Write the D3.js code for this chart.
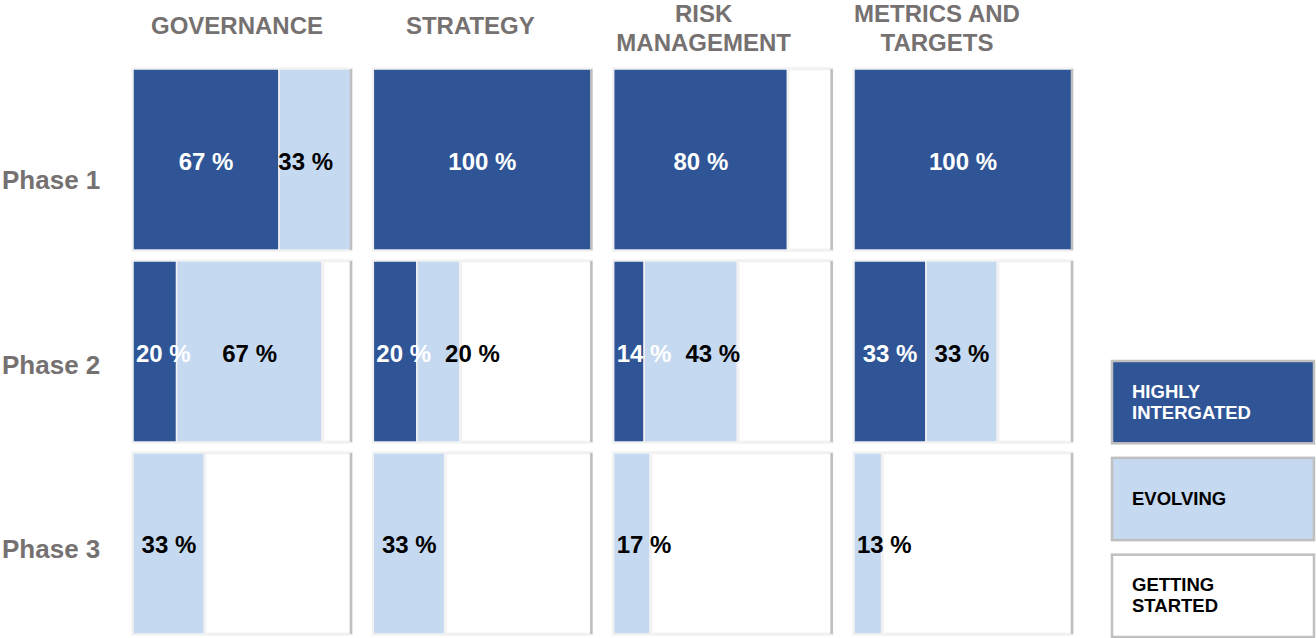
<!DOCTYPE html>
<html>
<head>
<meta charset="utf-8">
<script src="https://cdn.jsdelivr.net/npm/d3@7"></script>
<style>
  html, body { margin: 0; padding: 0; background: #fff; }
  svg { display: block; font-family: "Liberation Sans", Arial, sans-serif; font-weight: bold; }
</style>
</head>
<body>
<div id="chart"></div>
<script>
// Pillars (columns) and phases (rows)
const pillars = ["GOVERNANCE", "STRATEGY", "RISK MANAGEMENT", "METRICS AND TARGETS"];
const pillarLines = [["GOVERNANCE"], ["STRATEGY"], ["RISK", "MANAGEMENT"], ["METRICS AND", "TARGETS"]];
const phases = ["Phase 1", "Phase 2", "Phase 3"];
const levels = ["HIGHLY INTERGATED", "EVOLVING", "GETTING STARTED"];
const levelLines = [["HIGHLY", "INTERGATED"], ["EVOLVING"], ["GETTING", "STARTED"]];

// Share of companies per level, per pillar, for Phase 1..3 (%)
const highlyIntegrated = [[67, 20, 0], [100, 20, 0], [80, 14, 0], [100, 33, 0]];
const evolving         = [[33, 67, 33], [0, 20, 33], [0, 43, 17], [0, 33, 13]];
const gettingStarted   = [[0, 13, 67], [0, 60, 67], [20, 43, 83], [0, 34, 87]];

const colors = ["#2F5597", "#C5D9F0", "#FFFFFF"];
const labelColors = ["#FFFFFF", "#000000", "#000000"];

const width = 1316, height = 638;

const svg = d3.select("#chart").append("svg")
  .attr("width", width)
  .attr("height", height);

// Grid scales
const col = d3.scaleBand().domain(pillars).range([133, 1072]).paddingInner(0.093);
const row = d3.scaleBand().domain(phases).range([69, 634]).paddingInner(0.057);
const headerX = d3.scalePoint().domain(pillars).range([237, 937]);
const phaseY = d3.scalePoint().domain(phases).range([189, 558]);

// Stack the three levels inside each cell
const keys = ["high", "evolving", "started"];
const records = [];
pillars.forEach((p, i) => {
  phases.forEach((ph, j) => {
    records.push({
      pillar: p, phase: ph,
      high: highlyIntegrated[i][j],
      evolving: evolving[i][j],
      started: gettingStarted[i][j]
    });
  });
});
const stacked = d3.stack().keys(keys)(records);

// Column headers
pillars.forEach((p, i) => {
  const lines = pillarLines[i];
  const y0 = lines.length === 1 ? 34 : 22;
  lines.forEach((l, k) => {
    svg.append("text")
      .attr("x", headerX(p))
      .attr("y", y0 + k * 29)
      .attr("text-anchor", "middle")
      .attr("fill", "#767171")
      .style("font-size", "24px")
      .text(l);
  });
});

// Row labels
phases.forEach(ph => {
  svg.append("text")
    .attr("x", 2)
    .attr("y", phaseY(ph))
    .attr("fill", "#767171")
    .style("font-size", "26px")
    .text(ph);
});

// Cells
records.forEach((rec, idx) => {
  const x = d3.scaleLinear().domain([0, 100])
    .range([col(rec.pillar), col(rec.pillar) + col.bandwidth()]);
  const y0 = row(rec.phase), h = row.bandwidth();
  const g = svg.append("g");

  // cell outline
  g.append("rect")
    .attr("x", x(0)).attr("y", y0)
    .attr("width", x(100) - x(0)).attr("height", h)
    .attr("fill", "#fff")
    .attr("stroke", "#EFEFEF")
    .attr("stroke-width", 3);

  // segments
  stacked.forEach((layer, li) => {
    const d = layer[idx];
    if (d[1] - d[0] <= 0) return;
    g.append("rect")
      .attr("x", x(d[0]))
      .attr("y", y0)
      .attr("width", Math.min(x(d[1]), x(100)) - x(d[0]))
      .attr("height", h)
      .attr("fill", colors[li])
      .attr("stroke", "#F2F2F2")
      .attr("stroke-width", li === 2 ? 3 : 1.5);
  });

  // right shadow edge
  g.append("line")
    .attr("x1", x(100)).attr("x2", x(100))
    .attr("y1", y0).attr("y2", y0 + h)
    .attr("stroke", "#BFBFBF")
    .attr("stroke-width", 2.5);

  // value labels, placed left to right without overlapping
  let lastRight = -Infinity;
  [0, 1].forEach(li => {
    const d = stacked[li][idx];
    const v = d[1] - d[0];
    if (v <= 0) return;
    const t = g.append("text")
      .attr("y", y0 + h / 2 + 10)
      .attr("fill", labelColors[li])
      .style("font-size", "24px")
      .text(`${v} %`);
    const w = t.node().getComputedTextLength();
    let left = (x(d[0]) + x(d[1])) / 2 - w / 2;
    left = Math.min(left, x(100) - 18 - w);
    left = Math.max(left, x(0) + 3, lastRight + 14);
    t.attr("x", left);
    lastRight = left + w;
  });
});

// Legend
const legY = d3.scaleBand().domain(levels).range([361, 637]).paddingInner(0.15);
levels.forEach((lv, i) => {
  svg.append("rect")
    .attr("x", 1112).attr("y", legY(lv))
    .attr("width", 202).attr("height", legY.bandwidth())
    .attr("fill", colors[i])
    .attr("stroke", "#BFBFBF")
    .attr("stroke-width", 2.5);
  const lines = levelLines[i];
  const cy = legY(lv) + legY.bandwidth() / 2;
  lines.forEach((l, k) => {
    svg.append("text")
      .attr("x", 1132)
      .attr("y", cy + 6 + (k - (lines.length - 1) / 2) * 21)
      .attr("fill", labelColors[i])
      .style("font-size", "18.5px")
      .text(l);
  });
});
</script>
</body>
</html>
